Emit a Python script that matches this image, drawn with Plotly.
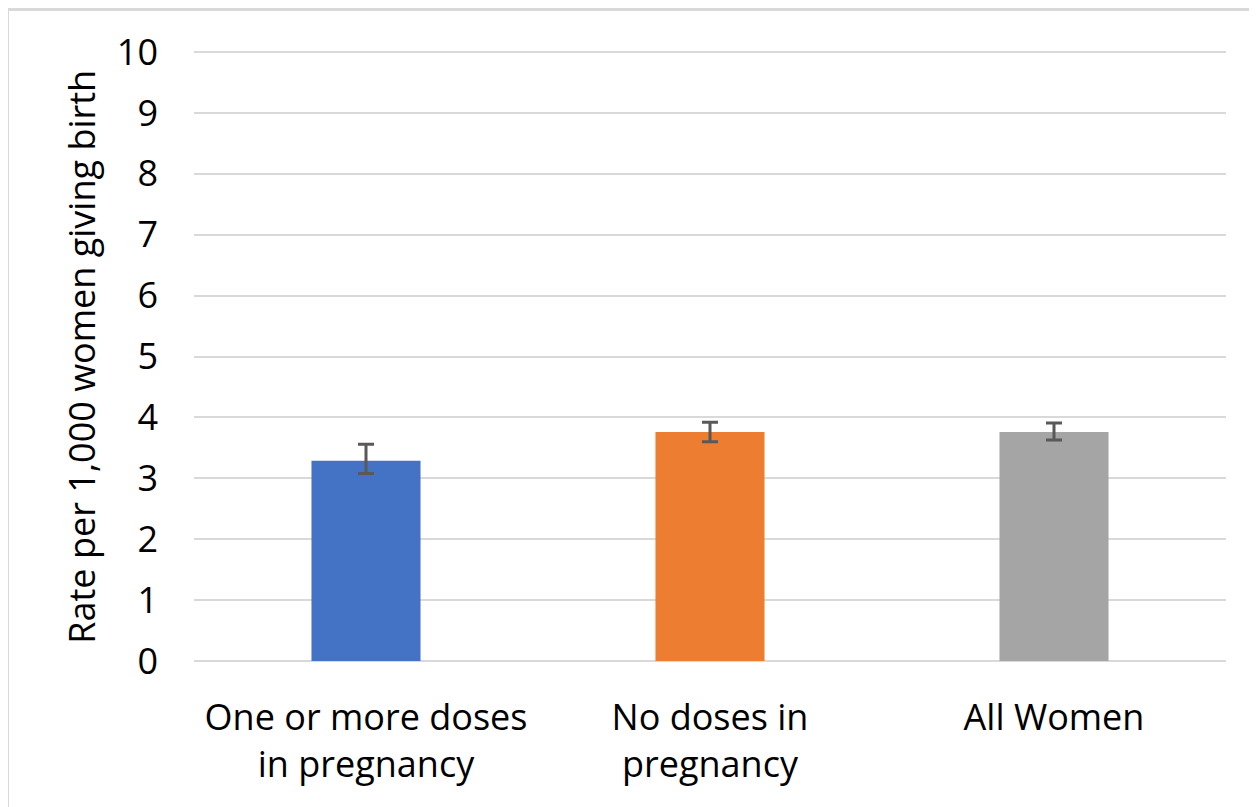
import plotly.graph_objects as go

categories = ["One or more doses<br>in pregnancy", "No doses in<br>pregnancy", "All Women"]
rates = [3.29, 3.76, 3.76]
err_upper = [0.27, 0.16, 0.15]
err_lower = [0.21, 0.16, 0.13]
colors = ["#4472C4", "#ED7D31", "#A5A5A5"]
y_ticks = list(range(0, 11))

OFF = 8  # default page body margin
L, R, T, B = 194 - OFF, 31, 50 - OFF, 146
W, H = 1257 - OFF, 807 - OFF
pw, ph = W - L - R, H - T - B

fig = go.Figure(go.Bar(
    x=categories, y=rates,
    marker=dict(color=colors, line=dict(width=0)),
    width=0.317,
    error_y=dict(type="data", symmetric=False, array=err_upper, arrayminus=err_lower,
                 color="#595959", thickness=3, width=8),
))

fig.update_layout(
    width=W, height=H,
    margin=dict(l=L, r=R, t=T, b=B),
    paper_bgcolor="white", plot_bgcolor="white",
    font=dict(family="Open Sans", size=36, color="#000000"),
    showlegend=False,
    xaxis=dict(showgrid=False, zeroline=False, showline=False, ticks="",
               tickfont=dict(size=36), ticklabelstandoff=32),
    yaxis=dict(range=[0, 10.033], tickvals=y_ticks, showgrid=True, gridcolor="#D9D9D9",
               gridwidth=2, zeroline=True, zerolinecolor="#D9D9D9", zerolinewidth=2,
               showline=False, ticks="", tickfont=dict(size=36), ticklabelstandoff=35),
    annotations=[dict(text="Rate per 1,000 women giving birth", textangle=-90,
                      xref="paper", yref="paper", x=(82 - 194) / pw, y=0.498,
                      xanchor="center", yanchor="middle", showarrow=False,
                      font=dict(size=36, family="Open Sans"))],
    shapes=[dict(type="rect", xref="paper", yref="paper",
                 x0=(7.5 - 194) / pw, x1=1.2, y0=-0.4, y1=(661 - 9.5) / ph,
                 line=dict(color="#D9D9D9", width=3), layer="below")],
)

fig.write_html("out.html")
